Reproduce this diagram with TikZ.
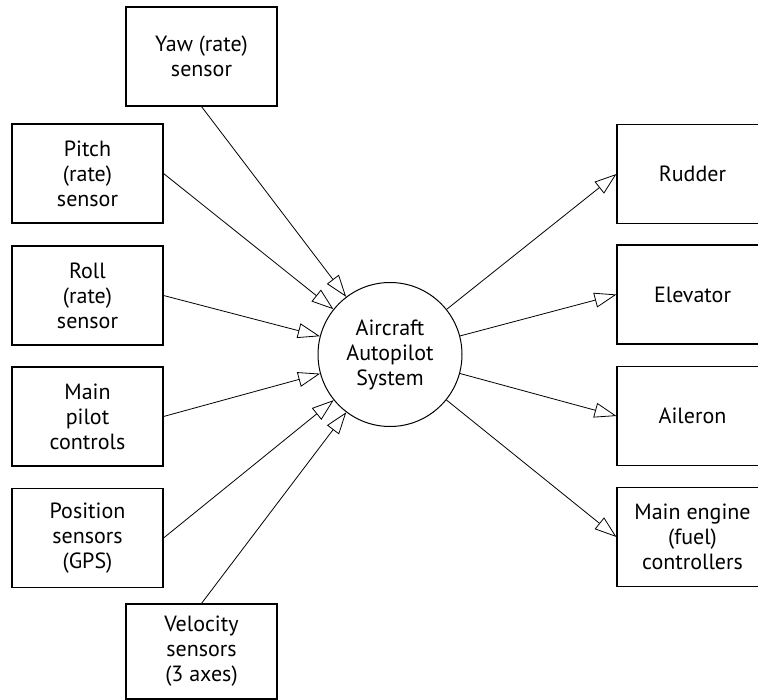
\documentclass[tikz,border=0pt]{standalone}
\usepackage{fontspec}
\setmainfont{PT Sans}
\usetikzlibrary{arrows.meta}
\begin{document}
\begin{tikzpicture}[x=1pt,y=-1pt,
  box/.style={draw, line width=1.1pt, minimum width=151pt, minimum height=99pt,
    align=center, inner sep=2pt, font=\fontsize{22}{25}\selectfont},
  hub/.style={draw, circle, line width=1pt, minimum size=144pt, inner sep=0pt,
    align=center, font=\fontsize{22}{25}\selectfont},
  link/.style={line width=0.8pt, -{Triangle[open, length=22pt, width=15pt]}}]
\useasboundingbox (0,0) rectangle (758,700);
\clip (0,0) rectangle (758,700);
\node[hub] (ap) at (390,354.5) {Aircraft\\Autopilot\\System};
\node[box] (yaw) at (201.5,56.5) {Yaw (rate)\\sensor};
\node[box] (pitch) at (87.5,173.5) {Pitch\\(rate)\\sensor};
\node[box] (roll) at (87.5,295.5) {Roll\\(rate)\\sensor};
\node[box] (pilot) at (87.5,416.5) {Main\\pilot\\controls};
\node[box] (pos) at (87.5,538) {Position\\sensors\\(GPS)};
\node[box, minimum height=95pt] (vel) at (201.5,651.5) {Velocity\\sensors\\(3 axes)};
\node[box] (rud) at (692.5,174) {Rudder};
\node[box] (ele) at (692.5,294.5) {Elevator};
\node[box] (ail) at (692.5,416) {Aileron};
\node[box] (eng) at (692.5,537) {Main engine\\(fuel)\\controllers};
\draw[link] (yaw.south) -- (ap);
\draw[link] (pitch.east) -- (ap);
\draw[link] (roll.east) -- (ap);
\draw[link] (pilot.east) -- (ap);
\draw[link] (pos.east) -- (ap);
\draw[link] (vel.north) -- (ap);
\draw[link] (ap) -- (rud.west);
\draw[link] (ap) -- (ele.west);
\draw[link] (ap) -- (ail.west);
\draw[link] (ap) -- (eng.west);
\end{tikzpicture}
\end{document}
